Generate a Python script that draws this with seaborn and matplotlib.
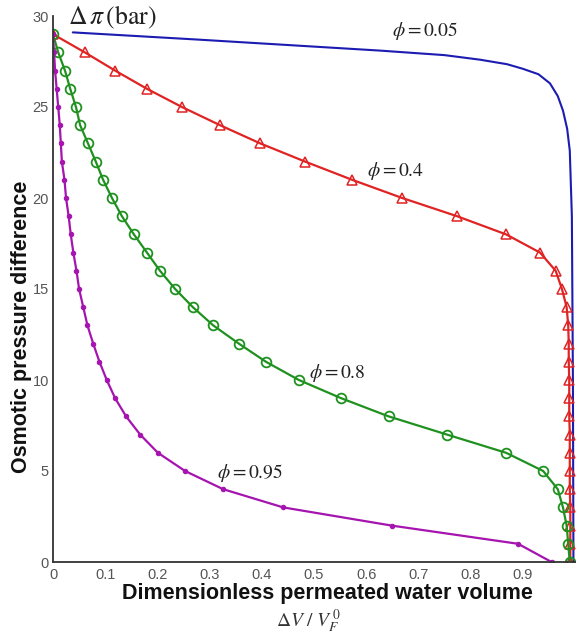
import numpy as np
import pandas as pd
import matplotlib
matplotlib.use("Agg")
import matplotlib.pyplot as plt
import seaborn as sns

# Osmotic pressure difference (bar) versus dimensionless permeated volume
# for four values of the parameter phi.
dpi_levels = list(range(29, -1, -1))  # 29, 28, ..., 0

x_phi_04 = [0.000, 0.061, 0.119, 0.180, 0.247, 0.320, 0.397, 0.483, 0.573, 0.669,
            0.774, 0.868, 0.933, 0.963, 0.975, 0.984, 0.987, 0.988, 0.988, 0.989,
            0.989, 0.989, 0.990, 0.990, 0.990, 0.990, 0.991, 0.991, 0.991, 0.991]

x_phi_08 = [0.000, 0.010, 0.023, 0.033, 0.044, 0.052, 0.067, 0.082, 0.096, 0.113,
            0.132, 0.155, 0.180, 0.205, 0.234, 0.268, 0.307, 0.356, 0.408, 0.471,
            0.552, 0.643, 0.755, 0.868, 0.939, 0.967, 0.977, 0.984, 0.987, 0.990]

x_phi_095 = [0.000, 0.002, 0.004, 0.007, 0.010, 0.013, 0.015, 0.017, 0.022, 0.025,
             0.030, 0.034, 0.039, 0.045, 0.050, 0.058, 0.066, 0.077, 0.089, 0.103,
             0.119, 0.140, 0.167, 0.201, 0.253, 0.326, 0.441, 0.649, 0.891, 0.955]

x_phi_005 = [0.038, 0.280, 0.626, 0.750, 0.818, 0.870, 0.900, 0.930, 0.952, 0.967,
             0.977, 0.985, 0.990, 0.994, 0.996, 0.997]
y_phi_005 = [29.1, 28.7, 28.1, 27.85, 27.6, 27.35, 27.1, 26.8, 26.3, 25.6,
             24.8, 23.8, 22.6, 19.0, 10.0, 0.0]

x_ticks = [0, 0.1, 0.2, 0.3, 0.4, 0.5, 0.6, 0.7, 0.8, 0.9]
x_tick_labels = ["0", "0.1", "0.2", "0.3", "0.4", "0.5", "0.6", "0.7", "0.8", "0.9"]
y_ticks = [0, 5, 10, 15, 20, 25, 30]

curve_labels = [r"$\phi = 0.05$", r"$\phi = 0.4$", r"$\phi = 0.8$", r"$\phi = 0.95$"]
label_x = [0.712, 0.657, 0.544, 0.377]
label_y = [29.2, 21.5, 10.4, 4.9]

blue = "#1c1cb2"
red = "#e02323"
green = "#1f911f"
magenta = "#a614b0"

sns.set_style("white", {"xtick.direction": "in", "ytick.direction": "in",
                        "axes.edgecolor": "#333333"})
plt.rcParams["font.family"] = ["Liberation Sans", "DejaVu Sans"]
plt.rcParams["mathtext.fontset"] = "stix"

fig = plt.figure(figsize=(5.76, 6.36), dpi=100)
ax = fig.add_axes([53 / 576, 1 - 562 / 636, 522 / 576, 546 / 636])

df_005 = pd.DataFrame({"x": x_phi_005, "y": y_phi_005})
df_04 = pd.DataFrame({"x": x_phi_04, "y": dpi_levels})
df_08 = pd.DataFrame({"x": x_phi_08, "y": dpi_levels})
df_095 = pd.DataFrame({"x": x_phi_095, "y": dpi_levels})

sns.lineplot(data=df_005, x="x", y="y", ax=ax, sort=False, estimator=None,
             color=blue, linewidth=1.5)
sns.lineplot(data=df_04, x="x", y="y", ax=ax, sort=False, estimator=None,
             color=red, linewidth=1.6, marker="^", markersize=7.5,
             markerfacecolor="none", markeredgecolor=red, markeredgewidth=1.1)
sns.lineplot(data=df_08, x="x", y="y", ax=ax, sort=False, estimator=None,
             color=green, linewidth=1.6, marker="o", markersize=7,
             markerfacecolor="none", markeredgecolor=green, markeredgewidth=1.3)
sns.lineplot(data=df_095, x="x", y="y", ax=ax, sort=False, estimator=None,
             color=magenta, linewidth=1.6, marker="o", markersize=3.2,
             markerfacecolor=magenta, markeredgecolor=magenta)

ax.set_xlim(0, 1)
ax.set_ylim(0, 30)
ax.set_xticks(x_ticks)
ax.set_xticklabels(x_tick_labels)
ax.set_yticks(y_ticks)
ax.tick_params(axis="both", labelsize=10.5, labelcolor="#555555", color="#333333",
               length=4, width=1.0, pad=4)
ax.tick_params(axis="y", pad=3)
for side in ("top", "right"):
    ax.spines[side].set_visible(False)
for side in ("left", "bottom"):
    ax.spines[side].set_linewidth(1.3)
ax.set_xlabel("")
ax.set_ylabel("")

for txt, lx, ly in zip(curve_labels, label_x, label_y):
    ax.text(lx, ly, txt, fontsize=14, ha="center", va="center", color="#222222")

fig.text(112 / 576, 1 - 17 / 636, r"$\Delta\,\pi\,(\mathrm{bar})$", fontsize=18.5,
         ha="center", va="center", color="#222222")
fig.text(22 / 576, 1 - 327 / 636, "Osmotic pressure difference", rotation=90,
         fontsize=15.5, fontweight="bold", ha="center", va="center", color="#111111")
fig.text(327 / 576, 1 - 594 / 636, "Dimensionless permeated water volume",
         fontsize=15.5, fontweight="bold", ha="center", va="center", color="#111111")
fig.text(308 / 576, 1 - 621 / 636, r"$\Delta V\ /\ V_F^{\,0}$", fontsize=14,
         ha="center", va="center", color="#333333")

fig.savefig("out.png", dpi=100)
